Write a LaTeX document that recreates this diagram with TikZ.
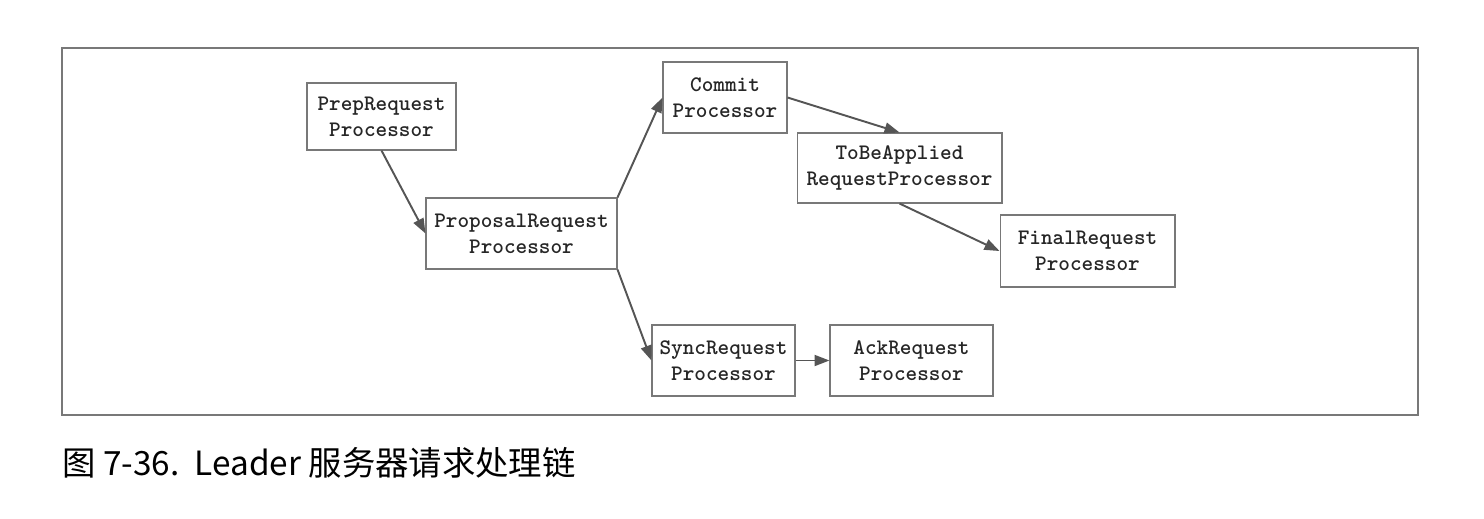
\documentclass[tikz,border=0pt]{standalone}
\usepackage{fontspec}
\newfontfamily\cjk{Noto Sans CJK SC}
\usetikzlibrary{arrows.meta}
\definecolor{linegray}{RGB}{85,85,85}
\definecolor{boxgray}{RGB}{120,120,120}
\begin{document}
\begin{tikzpicture}[x=0.02cm,y=-0.02cm,
  proc/.style={draw=boxgray, line width=0.6pt, align=center, inner sep=0pt,
    font=\fontsize{12.6}{14.8}\selectfont\ttfamily\bfseries, text=black!85},
  link/.style={draw=linegray, line width=1.1pt,
    -{Triangle[width=0.22cm,length=0.3cm]}}]
\useasboundingbox (0,0) rectangle (1484,518);
\draw[boxgray, line width=0.8pt] (62,48) rectangle (1418,415);

\node[proc, minimum width=2.98cm, minimum height=1.34cm] (prep) at (381.5,116.5) {PrepRequest\\Processor};
\node[proc, minimum width=3.82cm, minimum height=1.42cm] (proposal) at (521.5,233.5) {ProposalRequest\\Processor};
\node[proc, minimum width=2.48cm, minimum height=1.42cm] (commit) at (725,97.5) {Commit\\Processor};
\node[proc, minimum width=4.10cm, minimum height=1.40cm] (tobe) at (899.5,168) {ToBeApplied\\RequestProcessor};
\node[proc, minimum width=3.50cm, minimum height=1.44cm] (final) at (1087.5,251) {FinalRequest\\Processor};
\node[proc, minimum width=2.86cm, minimum height=1.42cm] (sync) at (723.5,360.5) {SyncRequest\\Processor};
\node[proc, minimum width=3.26cm, minimum height=1.42cm] (ack) at (911.5,360.5) {AckRequest\\Processor};

\path[link] (prep.south) -- (proposal.west);
\path[link] (proposal.north east) -- (commit.west);
\path[link] (proposal.south east) -- (sync.west);
\path[link] (commit.east) -- (tobe.north);
\path[link] (tobe.south) -- (final.west);
\path[link] (sync.east) -- (ack.west);

\node[anchor=west, inner sep=0pt, font=\cjk\fontsize{19}{22}\selectfont] (caption) at (62,463) {图 7-36.\ \ Leader 服务器请求处理链};
\end{tikzpicture}
\end{document}
